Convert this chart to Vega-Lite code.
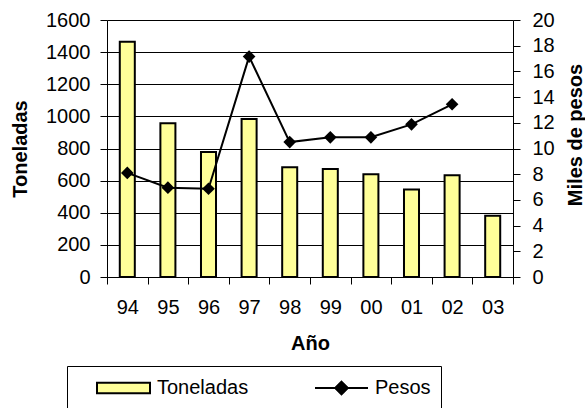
{
  "$schema": "https://vega.github.io/schema/vega-lite/v6.json",
  "autosize": {"type": "none"},
  "padding": {"left": 107, "top": 20, "right": 72, "bottom": 131},
  "width": 406,
  "height": 257,
  "background": "white",
  "config": {
    "view": {"stroke": null},
    "font": "Liberation Sans",
    "axis": {
      "domainColor": "black",
      "domainWidth": 1,
      "tickColor": "black",
      "tickWidth": 1,
      "tickSize": 7,
      "labelColor": "black",
      "labelFontSize": 20,
      "labelFont": "Liberation Sans",
      "titleFont": "Liberation Sans",
      "titleFontSize": 20,
      "titleFontWeight": "bold",
      "titleColor": "black",
      "labelOverlap": false
    },
    "legend": {
      "orient": "none",
      "legendX": -40,
      "legendY": 346,
      "direction": "horizontal",
      "columns": 2,
      "titleOrient": "left",
      "titleFontSize": 10,
      "titlePadding": 19,
      "padding": 10,
      "strokeColor": "black",
      "symbolSize": 2809,
      "clipHeight": 24,
      "labelFontSize": 20,
      "labelFont": "Liberation Sans",
      "labelColor": "black",
      "labelOffset": 6,
      "columnPadding": 67,
      "symbolStrokeColor": "black",
      "symbolStrokeWidth": 2,
      "symbolOpacity": 1
    }
  },
  "data": {
    "values": [
      {"year": "94", "toneladas": 1465, "pesos": 8.1},
      {"year": "95", "toneladas": 957, "pesos": 6.95},
      {"year": "96", "toneladas": 778, "pesos": 6.87},
      {"year": "97", "toneladas": 984, "pesos": 17.15},
      {"year": "98", "toneladas": 683, "pesos": 10.5},
      {"year": "99", "toneladas": 672, "pesos": 10.87},
      {"year": "00", "toneladas": 639, "pesos": 10.87},
      {"year": "01", "toneladas": 544, "pesos": 11.88},
      {"year": "02", "toneladas": 633, "pesos": 13.44},
      {"year": "03", "toneladas": 382, "pesos": null}
    ]
  },
  "encoding": {
    "x": {
      "field": "year",
      "type": "nominal",
      "sort": null,
      "scale": {"paddingInner": 0, "paddingOuter": 0},
      "axis": {
        "title": "Año",
        "labelAngle": 0,
        "tickBand": "extent",
        "labelPadding": 13,
        "titleX": 203,
        "titleY": 66,
        "titleAlign": "center",
        "titleBaseline": "middle"
      }
    }
  },
  "layer": [
    {
      "mark": {"type": "bar", "fill": "#FFFF99", "stroke": "black", "strokeWidth": 2, "width": {"band": 0.37}},
      "encoding": {
        "y": {
          "field": "toneladas",
          "type": "quantitative",
          "scale": {"domain": [0, 1600], "nice": false},
          "axis": {
            "title": "Toneladas",
            "format": "d",
            "values": [0, 200, 400, 600, 800, 1000, 1200, 1400, 1600],
            "grid": true,
            "gridColor": "black",
            "gridWidth": 1,
            "labelPadding": 10,
            "titleAngle": 270,
            "titleX": -87,
            "titleY": 128.5,
            "titleAlign": "center",
            "titleBaseline": "middle"
          }
        }
      }
    },
    {
      "encoding": {
        "y": {
          "field": "pesos",
          "type": "quantitative",
          "scale": {"domain": [0, 20], "nice": false},
          "axis": {
            "orient": "right",
            "title": "Miles de pesos",
            "values": [0, 2, 4, 6, 8, 10, 12, 14, 16, 18, 20],
            "grid": false,
            "labelPadding": 12,
            "titleAngle": 270,
            "titleX": 62,
            "titleY": 114.5,
            "titleAlign": "center",
            "titleBaseline": "middle"
          }
        }
      },
      "layer": [
        {
          "mark": {"type": "line", "strokeWidth": 2},
          "encoding": {
            "stroke": {
              "datum": "Pesos",
              "scale": {"domain": ["Toneladas", "Pesos"], "range": ["black", "black"]},
              "legend": {"title": " ", "gridAlign": "all", "columnPadding": 65}
            }
          }
        },
        {
          "mark": {"type": "point", "shape": "diamond", "filled": true, "size": 160, "opacity": 1, "strokeWidth": 0},
          "encoding": {
            "fill": {
              "datum": "Pesos",
              "scale": {"domain": ["Toneladas", "Pesos"], "range": ["#FFFF99", "black"]},
              "legend": {"title": " ", "gridAlign": "all", "columnPadding": 65}
            }
          }
        },
        {
          "mark": {"type": "point", "opacity": 0},
          "encoding": {
            "shape": {
              "datum": "Pesos",
              "scale": {"domain": ["Toneladas", "Pesos"], "range": ["M-1,-0.2H1V0.2H-1Z", "M-1,0H1M0,-0.24L0.24,0L0,0.24L-0.24,0Z"]},
              "legend": {"title": " ", "gridAlign": "all", "columnPadding": 65}
            }
          }
        }
      ]
    }
  ],
  "resolve": {"scale": {"y": "independent"}}
}
